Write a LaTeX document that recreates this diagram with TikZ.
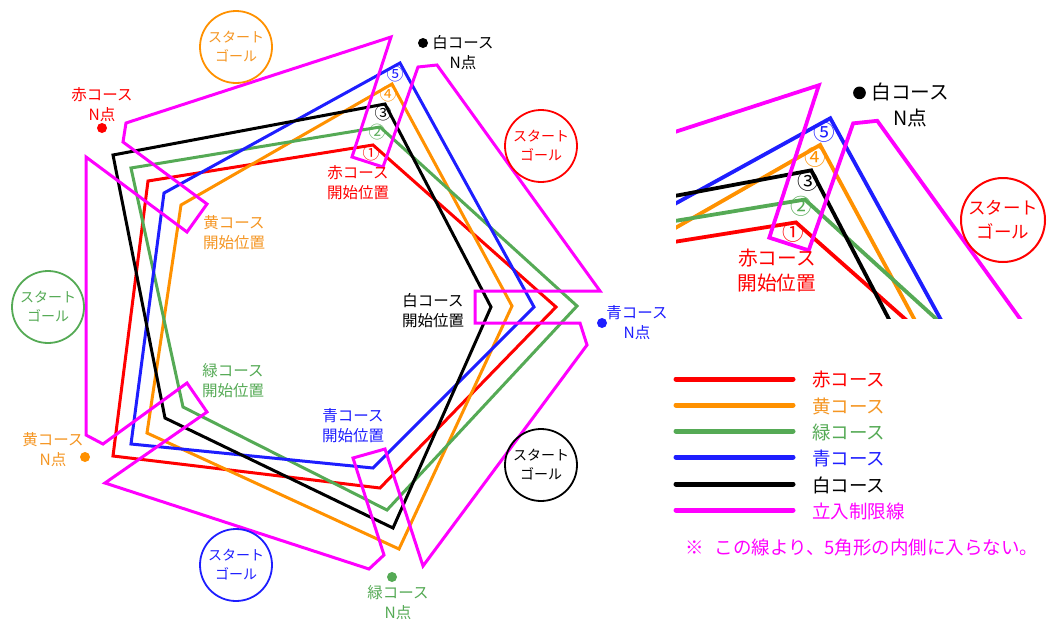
\documentclass[tikz,border=0pt]{standalone}
\usepackage{fontspec}
\setmainfont{Noto Sans CJK JP}
\definecolor{cRed}{RGB}{255,0,0}
\definecolor{cOrange}{RGB}{255,145,0}
\definecolor{cOrangeT}{RGB}{245,150,35}
\definecolor{cGreen}{RGB}{85,170,85}
\definecolor{cBlue}{RGB}{30,30,255}
\definecolor{cMag}{RGB}{255,0,255}
\newcommand\mylw{3pt}
\newcommand\coursepaths{%
  \draw[course,cRed] (148,181) -- (373,145) -- (556,307) -- (380,488) -- (113,456) -- cycle;
  \draw[course,cOrange] (181,205) -- (392,84) -- (512,306) -- (399,549) -- (147,433) -- cycle;
  \draw[course,cGreen] (131,168) -- (380,127) -- (577,306) -- (387,510) -- (183,407) -- cycle;
  \draw[course,cBlue] (164,193) -- (400,63) -- (534,307) -- (373,468) -- (131,444) -- cycle;
  \draw[course,black] (113,155) -- (385,104) -- (491,307) -- (393,528) -- (165,418) -- cycle;
  \draw[course,cMag] (126,123) -- (391,37) -- (352,157) -- (383,167) -- (418,67) -- (437,65)
     -- (600,291) -- (475,291) -- (475,323) -- (580,323) -- (587,345) -- (423,566)
     -- (385,449) -- (353,458) -- (384,555) -- (369,569) -- (105,483) -- (207,412)
     -- (187,383) -- (103,444) -- (86,435) -- (86,157) -- (187,232) -- (207,204)
     -- (123,142) -- cycle;
  \node[num,text=cRed] (n1) at (371,153) {①};
  \node[num,text=cGreen] (n2) at (377,132) {②};
  \node[num,text=black] (n3) at (383,113) {③};
  \node[num,text=cOrange] (n4) at (388,94) {④};
  \node[num,text=cBlue] (n5) at (395,74) {⑤};
  \node[lbl,text=cRed] (redstart) at (358,183) {赤コース\\開始位置};
  \fill[black] (423,43) circle[radius=5];
  \node[lbl,text=black] (whiten) at (463,52.5) {白コース\\N点};
}
\begin{document}
\begin{tikzpicture}[x=1pt,y=-1pt,
  course/.style={line width=\mylw, line join=miter},
  num/.style={inner sep=0, font=\fontsize{17}{18}\selectfont},
  lbl/.style={inner sep=0, align=center, font=\fontsize{15.5}{20}\selectfont},
  sg/.style={draw, circle, line width=1.8pt, minimum size=72pt, inner sep=0, align=center, font=\fontsize{14}{19}\selectfont},
  dotn/.style={circle, inner sep=0, minimum size=10pt},
  leg/.style={line width=5pt, line cap=round},
  legt/.style={inner sep=0, anchor=west, font=\fontsize{18.5}{20}\selectfont}]
\useasboundingbox (0,0) rectangle (1054,619);
\fill[white] (0,0) rectangle (1054,619);
% main figure
\coursepaths
% start / goal circles
\node[sg,cOrange,text=cOrangeT] (sgO) at (236,47) {スタート\\ゴール};
\node[sg,cRed] (sgR) at (541,146) {スタート\\ゴール};
\node[sg,cGreen] (sgG) at (48,307) {スタート\\ゴール};
\node[sg,black] (sgK) at (541,465) {スタート\\ゴール};
\node[sg,cBlue] (sgB) at (236,565) {スタート\\ゴール};
% N points
\node[dotn,fill=cRed] (dR) at (102,128) {};
\node[lbl,text=cRed] (lR) at (102,105) {赤コース\\N点};
\node[dotn,fill=cBlue] (dB) at (602,323) {};
\node[lbl,text=cBlue] (lB) at (637,323) {青コース\\N点};
\node[dotn,fill=cGreen] (dG) at (392,577) {};
\node[lbl,text=cGreen] (lG) at (398,603) {緑コース\\N点};
\node[dotn,fill=cOrange] (dO) at (85,457) {};
\node[lbl,text=cOrangeT] (lO) at (53,450) {黄コース\\N点};
% start positions
\node[lbl,text=cOrangeT] (sO) at (234,233) {黄コース\\開始位置};
\node[lbl,text=black] (sK) at (433,311) {白コース\\開始位置};
\node[lbl,text=cBlue] (sB) at (353,426) {青コース\\開始位置};
\node[lbl,text=cGreen] (sG) at (233,381) {緑コース\\開始位置};
% inset
\begin{scope}
  \clip (676,60) rectangle (1054,318);
  \begin{scope}[shift={(322.27,38.26)}, scale=1.27, transform shape]
    \renewcommand\mylw{3.8pt}
    \coursepaths
  \end{scope}
\end{scope}
\node[sg,cRed,minimum size=84pt,line width=2pt,font=\fontsize{17.5}{24}\selectfont] (sgRi) at (1003,220) {スタート\\ゴール};
% legend
\coordinate (a1) at (676,379); \coordinate (b1) at (793,379);
\coordinate (a2) at (676,405); \coordinate (b2) at (793,405);
\coordinate (a3) at (676,431); \coordinate (b3) at (793,431);
\coordinate (a4) at (676,457); \coordinate (b4) at (793,457);
\coordinate (a5) at (676,484); \coordinate (b5) at (793,484);
\coordinate (a6) at (676,510); \coordinate (b6) at (793,510);
\draw[leg,cRed] (a1) -- (b1);
\draw[leg,cOrange] (a2) -- (b2);
\draw[leg,cGreen] (a3) -- (b3);
\draw[leg,cBlue] (a4) -- (b4);
\draw[leg,black] (a5) -- (b5);
\draw[leg,cMag] (a6) -- (b6);
\node[legt,text=cRed] (t1) at (812,380) {赤コース};
\node[legt,text=cOrangeT] (t2) at (812,406) {黄コース};
\node[legt,text=cGreen] (t3) at (812,432) {緑コース};
\node[legt,text=cBlue] (t4) at (812,458) {青コース};
\node[legt,text=black] (t5) at (812,485) {白コース};
\node[legt,text=cMag] (t6) at (812,511) {立入制限線};
\node[legt,text=cMag,font=\fontsize{18.5}{20}\selectfont] (note) at (685,547) {※\hspace{0.6em}この線より、5角形の内側に入らない。};
\end{tikzpicture}
\end{document}
